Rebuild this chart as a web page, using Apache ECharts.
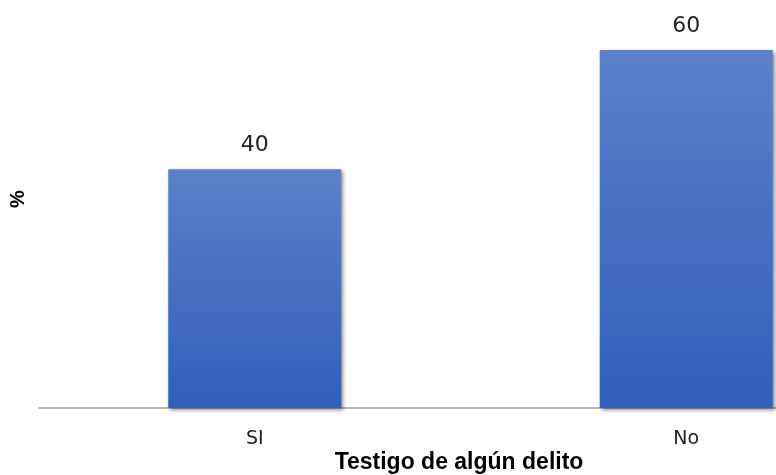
<!DOCTYPE html>
<html>
<head>
<meta charset="utf-8">
<script src="https://cdn.jsdelivr.net/npm/echarts@6/dist/echarts.min.js"></script>
<style>
  html, body { margin: 0; padding: 0; background: #fff; overflow: hidden; }
  #main { width: 902px; height: 475px; }
</style>
</head>
<body>
<div id="main"></div>
<script>
  const categories = ['SI', 'No']
  const values = [40, 60]

  // chart area is wider than the window: the picture crops the right side
  const myChart = echarts.init(document.getElementById('main'))
  const option = {
    animation: false,
    title: {
      text: 'Testigo de algún delito',
      left: 454,
      top: 446,
      textAlign: 'center',
      textStyle: {
        fontFamily: 'Liberation Sans',
        fontSize: 23,
        fontWeight: 'bold',
        color: '#000'
      }
    },
    graphic: [{
      type: 'text',
      x: 18,
      y: 199,
      rotation: Math.PI / 2,
      style: {
        text: '%',
        font: 'bold 20px "Liberation Sans"',
        fill: '#000',
        textAlign: 'center',
        textVerticalAlign: 'middle'
      }
    }],
    grid: {
      left: 39,
      right: 0,
      top: 44,
      bottom: 67
    },
    xAxis: {
      type: 'category',
      data: categories,
      axisLine: { lineStyle: { color: '#a0a0a0', width: 1.5 } },
      axisTick: { show: false },
      axisLabel: {
        fontFamily: 'DejaVu Sans',
        fontSize: 19,
        color: '#222',
        margin: 22
      }
    },
    yAxis: {
      type: 'value',
      min: 0,
      max: 61,
      show: false,
      splitLine: { show: false }
    },
    series: [{
      type: 'bar',
      data: values,
      barWidth: 173,
      itemStyle: {
        color: new echarts.graphic.LinearGradient(0, 0, 0, 1, [
          { offset: 0, color: '#5d80ca' },
          { offset: 1, color: '#2f5fba' }
        ]),
        shadowColor: 'rgba(0,0,0,0.45)',
        shadowBlur: 4,
        shadowOffsetX: 2,
        shadowOffsetY: 2
      },
      label: {
        show: true,
        position: 'top',
        distance: 13,
        fontFamily: 'DejaVu Sans',
        fontSize: 22,
        color: '#222'
      }
    }]
  }
  myChart.setOption(option)
</script>
</body>
</html>
